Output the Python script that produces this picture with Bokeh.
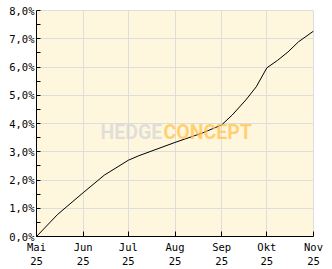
from datetime import datetime
from bokeh.plotting import figure
from bokeh.models import FixedTicker, Range1d, Label
from bokeh.embed import file_html
from bokeh.resources import INLINE

# data (cumulative performance, %)
dates = ["2025-05-01", "2025-05-15", "2025-06-01", "2025-06-15", "2025-07-01",
         "2025-07-08", "2025-08-01", "2025-08-19", "2025-09-01", "2025-09-08",
         "2025-09-17", "2025-09-24", "2025-10-01", "2025-10-08", "2025-10-15",
         "2025-10-22", "2025-11-01"]
perf = [0.0, 0.78, 1.55, 2.17, 2.70,
        2.86, 3.33, 3.66, 3.95, 4.30,
        4.83, 5.30, 5.97, 6.23, 6.53,
        6.89, 7.27]
tick_dates = ["2025-05-01", "2025-06-01", "2025-07-01", "2025-08-01",
              "2025-09-01", "2025-10-01", "2025-11-01"]
tick_labels = ["Mai\n25", "Jun\n25", "Jul\n25", "Aug\n25", "Sep\n25", "Okt\n25", "Nov\n25"]
y_ticks = [0, 1, 2, 3, 4, 5, 6, 7, 8]
y_labels = ["0,0%", "1,0%", "2,0%", "3,0%", "4,0%", "5,0%", "6,0%", "7,0%", "8,0%"]

def ms(s):
    return datetime.strptime(s, "%Y-%m-%d").timestamp() * 1000.0

xs = [ms(d) for d in dates]
tx = [ms(d) for d in tick_dates]

p = figure(width=332, height=269, output_backend="svg", toolbar_location=None,
           x_range=Range1d(tx[0], tx[-1]), y_range=Range1d(0, 8),
           min_border_left=36, min_border_right=19, min_border_top=10, min_border_bottom=32)
p.border_fill_color = "white"
p.background_fill_color = "#FFF6DE"
p.outline_line_color = "#DDDDDD"

p.line(xs, perf, line_color="black", line_width=1)

font = "DejaVu Sans Mono"
# x axis
p.xaxis.ticker = FixedTicker(ticks=tx)
p.xaxis.major_label_overrides = {t: l for t, l in zip(tx, tick_labels)}
p.xaxis.major_tick_in = 5
p.xaxis.major_tick_out = 0
p.xaxis.minor_tick_line_color = None
p.xaxis.axis_line_color = "black"
p.xaxis.major_tick_line_color = "black"
p.xaxis.major_label_text_font = font
p.xaxis.major_label_text_font_size = "10.5px"
p.xaxis.major_label_text_color = "black"
p.xaxis.major_label_standoff = 4

# y axis
p.yaxis.ticker = FixedTicker(ticks=y_ticks, minor_ticks=[0.5 + i for i in range(8)])
p.yaxis.major_label_overrides = {t: l for t, l in zip(y_ticks, y_labels)}
p.yaxis.major_tick_in = 4
p.yaxis.major_tick_out = 0
p.yaxis.minor_tick_in = 4
p.yaxis.minor_tick_out = 0
p.yaxis.axis_line_color = "black"
p.yaxis.major_tick_line_color = "black"
p.yaxis.minor_tick_line_color = "black"
p.yaxis.major_label_text_font = font
p.yaxis.major_label_text_font_size = "10.5px"
p.yaxis.major_label_text_color = "black"
p.yaxis.major_label_standoff = 2

p.xgrid.ticker = FixedTicker(ticks=tx)
p.ygrid.ticker = FixedTicker(ticks=y_ticks)
p.grid.grid_line_color = "#DDDDDD"
p.grid.grid_line_width = 1

# watermark
wfont = "Roboto"
wm1 = Label(x=64, y=104, x_units="screen", y_units="screen", text="HEDGE",
            text_font=wfont, text_font_style="bold", text_baseline="alphabetic",
            text_font_size="19.5px", text_color="#D6D6D6", text_alpha=0.75)
wm2 = Label(x=127, y=104, x_units="screen", y_units="screen", text="CONCEPT",
            text_font=wfont, text_font_style="bold", text_baseline="alphabetic",
            text_font_size="19.5px", text_color="#FFC44F", text_alpha=0.75)
p.add_layout(wm1)
p.add_layout(wm2)

open("out.html", "w").write(file_html(p, INLINE))
